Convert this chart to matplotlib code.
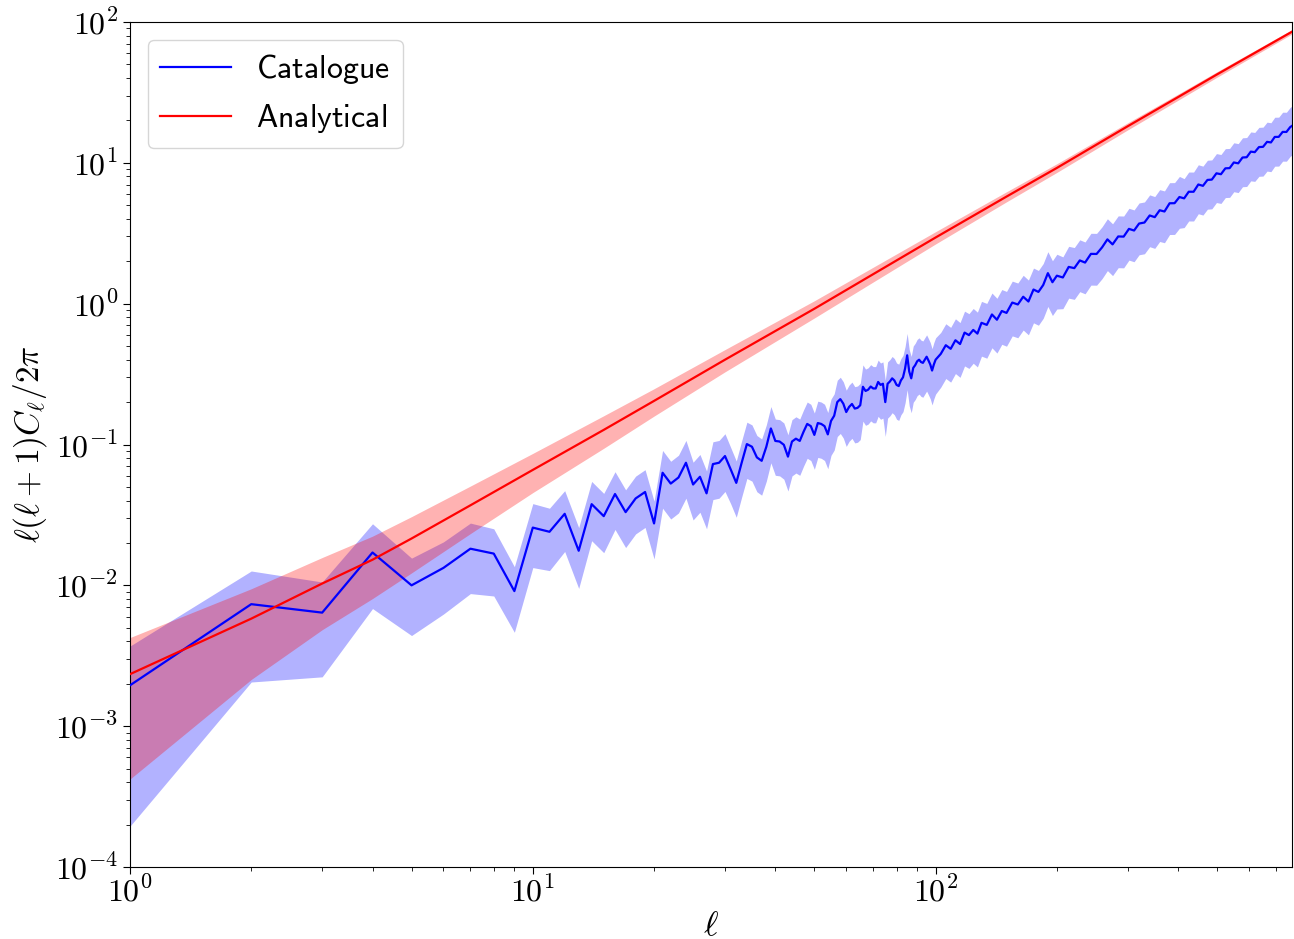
import matplotlib
matplotlib.use("Agg")
import matplotlib.pyplot as plt
from matplotlib.ticker import FuncFormatter
import numpy as np

plt.rcParams['mathtext.fontset'] = 'cm'
plt.rcParams['font.family'] = 'serif'
plt.rcParams['font.serif'] = ['DejaVu Serif']

# ---------------- data ----------------
# Analytical curve (read at anchor multipoles)
ana_ell = [1, 2, 3, 4, 5, 7, 10, 15, 20, 30, 50, 70, 100, 150, 200, 300, 400, 500, 600, 767]
ana_val = [2.34e-3, 5.8e-3, 1.03e-2, 1.52e-2, 2.15e-2, 3.7e-2, 6.6e-2, 0.127, 0.204, 0.40,
           0.92, 1.62, 2.95, 5.76, 9.2, 18.2, 29.3, 42.5, 57.2, 85.3]
# relative half-width of the analytical band
ana_err = [0.82, 0.63, 0.53, 0.47, 0.43, 0.37, 0.31, 0.26, 0.22, 0.18,
           0.14, 0.12, 0.10, 0.082, 0.071, 0.058, 0.05, 0.045, 0.041, 0.036]

# Catalogue, every multipole for ell = 1..100
cat_ell_low = list(range(1, 101))
cat_val_low = [
    1.95e-3, 7.35e-3, 6.4e-3, 0.0171, 0.0100, 0.0133, 0.0182, 0.0168, 0.0091, 0.0257,
    0.0240, 0.0322, 0.0176, 0.0377, 0.0310, 0.0445, 0.0331, 0.0414, 0.0460, 0.0275,
    0.0630, 0.0528, 0.0583, 0.0742, 0.0520, 0.0590, 0.0450, 0.0726, 0.0742, 0.0828,
    0.0665, 0.0534, 0.0742, 0.1007, 0.0964, 0.0810, 0.0766, 0.0964, 0.1300, 0.1060,
    0.1050, 0.0995, 0.0820, 0.1050, 0.1100, 0.1060, 0.1230, 0.1400, 0.1350, 0.1170,
    0.1420, 0.1400, 0.1350, 0.1180, 0.1470, 0.1600, 0.2000, 0.2100, 0.1950, 0.1700,
    0.1850, 0.1940, 0.1800, 0.1820, 0.1900, 0.2570, 0.2400, 0.2450, 0.2580, 0.2500,
    0.2500, 0.2780, 0.2650, 0.2700, 0.2000, 0.2700, 0.2800, 0.2950, 0.2850, 0.2650,
    0.2600, 0.2850, 0.3000, 0.3470, 0.4300, 0.3300, 0.2950, 0.3500, 0.3660, 0.3900,
    0.4000, 0.3850, 0.3800, 0.4000, 0.4200, 0.3950, 0.3700, 0.3350, 0.3700, 0.4000]
cat_err_low = [
    0.90, 0.72, 0.65, 0.60, 0.56, 0.53, 0.52, 0.50, 0.49, 0.48,
    0.47, 0.46, 0.46, 0.45, 0.45, 0.44, 0.44, 0.44, 0.44, 0.44,
    0.44, 0.44, 0.44, 0.44, 0.44, 0.44, 0.44, 0.44, 0.44, 0.44,
    0.43, 0.43, 0.43, 0.43, 0.43, 0.43, 0.43, 0.43, 0.43, 0.43,
    0.43, 0.43, 0.43, 0.43, 0.43, 0.43, 0.43, 0.43, 0.43, 0.43,
    0.43, 0.43, 0.43, 0.43, 0.43, 0.43, 0.43, 0.43, 0.43, 0.43,
    0.43, 0.43, 0.43, 0.43, 0.43, 0.43, 0.43, 0.43, 0.43, 0.43,
    0.43, 0.43, 0.43, 0.43, 0.43, 0.43, 0.43, 0.43, 0.43, 0.43,
    0.43, 0.43, 0.43, 0.43, 0.43, 0.43, 0.43, 0.43, 0.43, 0.43,
    0.43, 0.43, 0.43, 0.43, 0.43, 0.43, 0.43, 0.43, 0.43, 0.43]

# Catalogue, sampled multipoles above 100
cat_ell_high = [103, 106, 109, 112, 115, 118, 121, 124, 127, 130, 134, 138, 142, 146, 150,
                155, 160, 165, 170, 175, 180, 185, 190, 195, 200, 207, 214, 221, 228, 235,
                243, 251, 259, 267, 275, 284, 293, 302, 311, 320, 330, 340, 350, 360, 370,
                381, 392, 403, 414, 425, 437, 449, 461, 473, 485, 498, 511, 524, 537, 550,
                564, 578, 592, 606, 620, 635, 650, 665, 680, 695, 711, 727, 743, 759, 767]
cat_val_high = [0.44, 0.507, 0.478, 0.55, 0.517, 0.623, 0.598, 0.651, 0.613, 0.731,
                0.707, 0.838, 0.769, 0.887, 0.86, 1.018, 0.987, 1.12, 1.036, 1.26,
                1.212, 1.357, 1.647, 1.42, 1.58, 1.535, 1.824, 1.788, 2.028, 1.958,
                2.257, 2.254, 2.511, 2.862, 2.636, 3.001, 2.993, 3.397, 3.307, 3.706,
                3.768, 4.229, 4.115, 4.606, 4.513, 5.162, 5.17, 5.718, 5.595, 6.233,
                6.232, 7.018, 6.865, 7.561, 7.601, 8.425, 8.303, 9.139, 9.173, 10.06,
                9.92, 10.91, 10.96, 12.01, 11.91, 12.94, 12.99, 14.09, 13.96, 15.27,
                15.29, 16.58, 16.57, 17.93, 18.3]
cat_err_high = [0.42, 0.42, 0.42, 0.42, 0.42, 0.42, 0.42, 0.42, 0.42, 0.42,
                0.42, 0.42, 0.42, 0.42, 0.42, 0.42, 0.42, 0.42, 0.42, 0.42,
                0.42, 0.42, 0.42, 0.42, 0.42, 0.40, 0.40, 0.40, 0.40, 0.40,
                0.40, 0.40, 0.40, 0.40, 0.40, 0.40, 0.40, 0.40, 0.40, 0.40,
                0.40, 0.40, 0.40, 0.40, 0.40, 0.40, 0.40, 0.40, 0.38, 0.38,
                0.38, 0.38, 0.38, 0.38, 0.38, 0.38, 0.38, 0.38, 0.38, 0.38,
                0.38, 0.38, 0.38, 0.38, 0.38, 0.38, 0.38, 0.38, 0.38, 0.38,
                0.38, 0.38, 0.38, 0.38, 0.38]

legend_labels = ['Catalogue', 'Analytical']

# ---------------- plot ----------------
cat_ell = np.array(cat_ell_low + cat_ell_high, dtype=float)
cat_val = np.array(cat_val_low + cat_val_high)
cat_err = np.array(cat_err_low + cat_err_high)
a_ell = np.array(ana_ell, dtype=float)
a_val = np.array(ana_val)
a_err = np.array(ana_err)

fig = plt.figure(figsize=(12.94, 9.39), dpi=100)
ax = fig.add_axes([130 / 1294, 72 / 939, 1162 / 1294, 845 / 939])

ax.fill_between(cat_ell, cat_val * (1 - cat_err), cat_val * (1 + cat_err),
                color='blue', alpha=0.3, lw=0, zorder=1)
ax.fill_between(a_ell, a_val * (1 - a_err), a_val * (1 + a_err),
                color='red', alpha=0.3, lw=0, zorder=2)
ax.plot(cat_ell, cat_val, color='blue', lw=1.6, zorder=3,
        label=r'$\mathsf{%s}$' % legend_labels[0])
ax.plot(a_ell, a_val, color='red', lw=1.6, zorder=4,
        label=r'$\mathsf{%s}$' % legend_labels[1])

ax.set_xscale('log')
ax.set_yscale('log')
ax.set_xlim(1, 767)
ax.set_ylim(1e-4, 1e2)

fmt = FuncFormatter(lambda v, p: r'$10^{%d}$' % int(round(np.log10(v))))
ax.xaxis.set_major_formatter(fmt)
ax.yaxis.set_major_formatter(fmt)

ax.tick_params(axis='both', which='major', labelsize=23, length=5)
ax.tick_params(axis='both', which='minor', length=3)
ax.tick_params(axis='x', which='major', pad=2)

ax.set_xlabel(r'$\ell$', fontsize=25, labelpad=0)
ax.set_ylabel(r'$\ell(\ell+1)C_\ell/2\pi$', fontsize=24, labelpad=4)

ax.legend(loc='upper left', fontsize=23, handlelength=2.2, borderaxespad=0.55,
          fancybox=True, framealpha=0.8)

fig.savefig('out.png', dpi=100)
